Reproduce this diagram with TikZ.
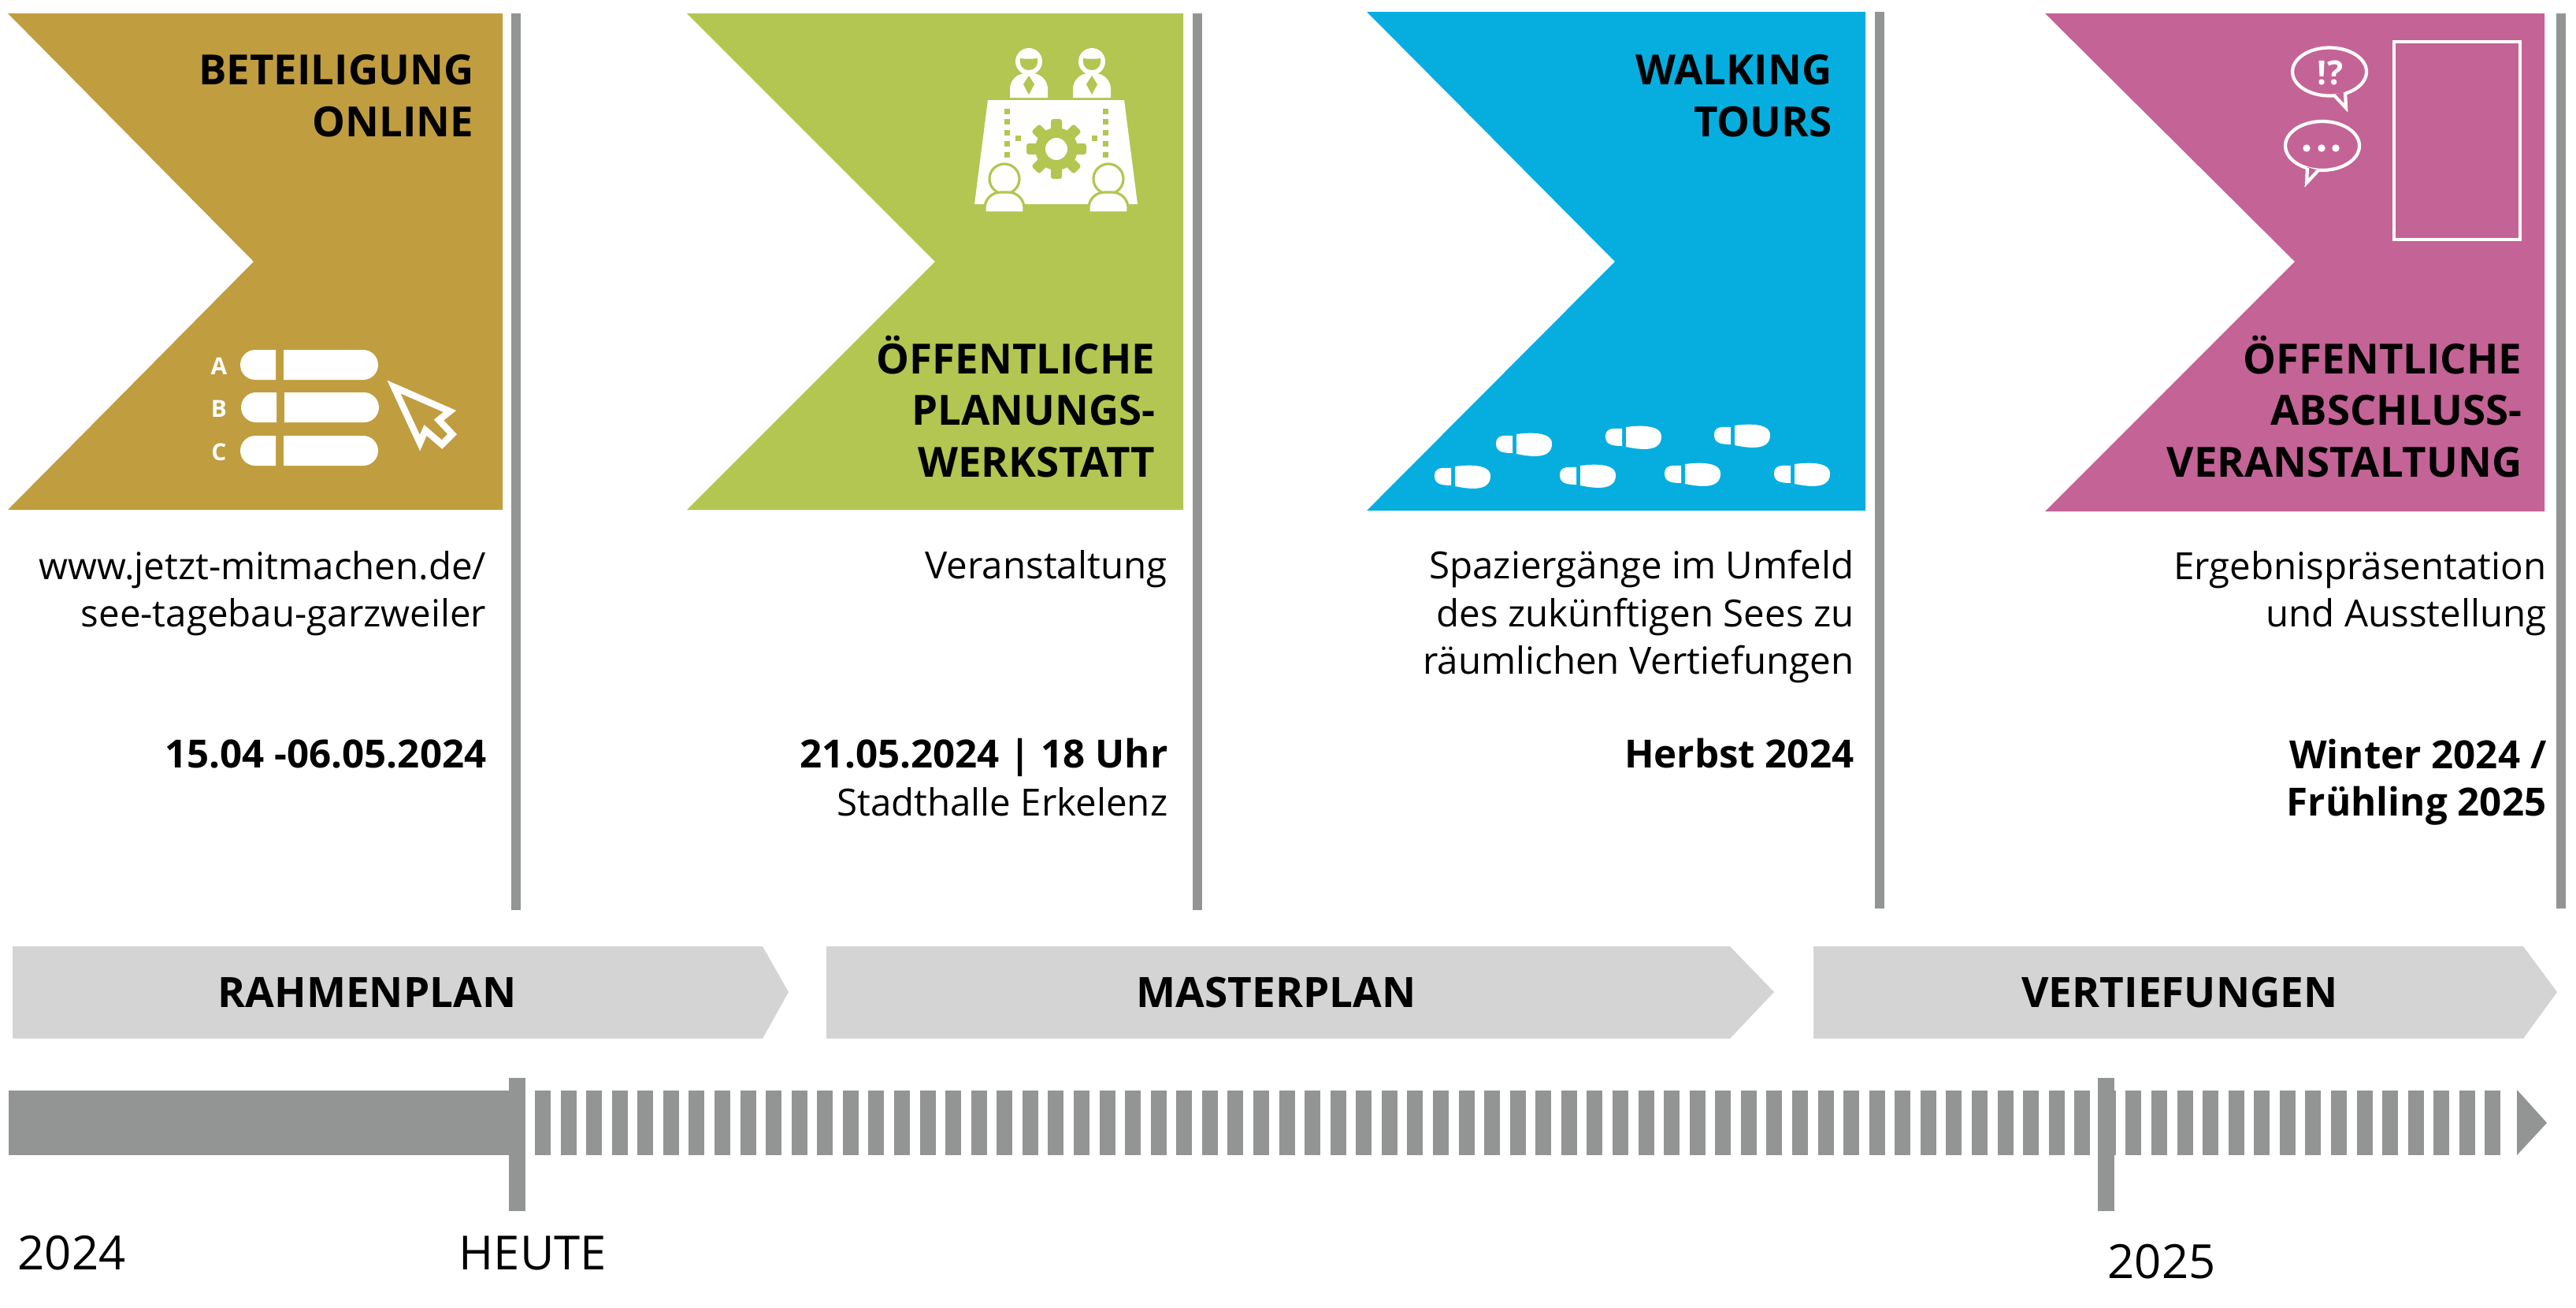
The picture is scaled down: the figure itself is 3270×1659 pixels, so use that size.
\documentclass[tikz,border=0pt]{standalone}
\usepackage{fontspec}
\setmainfont{Open Sans}

\definecolor{flaggold}{HTML}{C09D3F}
\definecolor{flaggreen}{HTML}{B2C651}
\definecolor{flagblue}{HTML}{06AEE0}
\definecolor{flagpink}{HTML}{C46396}
\definecolor{bargrey}{HTML}{939594}
\definecolor{phasegrey}{HTML}{D4D4D4}

\tikzset{
	flagtitle/.style={anchor=base east,align=right,inner sep=0pt,font=\fontsize{15}{18.5}\selectfont\bfseries},
	infotext/.style={anchor=base east,align=right,inner sep=0pt,font=\fontsize{13.5}{17.07}\selectfont},
	datetext/.style={anchor=base east,align=right,inner sep=0pt,font=\fontsize{14}{17.07}\selectfont\bfseries},
	phasetitle/.style={anchor=base,inner sep=0pt,font=\fontsize{15.1}{18}\selectfont\bfseries},
	yeartext/.style={anchor=base west,inner sep=0pt,font=\fontsize{17}{20}\selectfont},
	abctext/.style={anchor=base,inner sep=0pt,text=white,font=\fontsize{8.5}{10}\selectfont\bfseries},
	iconline/.style={draw=white,line width=1.2pt,miter limit=10},
}

\begin{document}
\begin{tikzpicture}[x=0.01cm,y=-0.01cm]		%1 unit = 1 pixel of the reference
	\useasboundingbox (0,0) rectangle (3270,1659);
	
	%flags and the grey posts beside them
	\foreach \fleft/\fnotch/\fright/\ftop/\fbot/\fcol/\pleft/\pbot in {
		10/322/638/17/647/flaggold/649/1155,
		872/1187/1502/17/647/flaggreen/1514/1155,
		1735/2050/2368/15/648/flagblue/2380/1153,
		2596/2913/3230/17/649/flagpink/3245/1153}{
		\fill[\fcol] (\fleft,\ftop) -- (\fright,\ftop) -- (\fright,\fbot) -- (\fleft,\fbot) -- (\fnotch,332) -- cycle;
		\fill[bargrey] (\pleft,\ftop) rectangle ++(12,\pbot-\ftop);
	}
	
	\node[flagtitle] (beteiligung) at (602,173) {BETEILIGUNG\\ONLINE};
	\node[flagtitle] (werkstatt) at (1467,605) {ÖFFENTLICHE\\PLANUNGS-\\WERKSTATT};
	\node[flagtitle] (walking) at (2326,173) {WALKING\\TOURS};
	\node[flagtitle] (abschluss) at (3202,605) {ÖFFENTLICHE\\ABSCHLUSS-\\VERANSTALTUNG};
	
	%texts below the flags
	\node[infotext] (onlineinfo) at (618,795) {www.jetzt-mitmachen.de/\\see-tagebau-garzweiler};
	\node[datetext] (onlinedate) at (618,974) {15.04 -06.05.2024};
	\node[infotext] (werkstattinfo) at (1482,734) {Veranstaltung};
	\node[datetext] (werkstattdate) at (1483,974) {21.05.2024 | 18 Uhr};
	\node[infotext] (werkstattort) at (1483,1035) {Stadthalle Erkelenz};
	\node[infotext] (walkinginfo) at (2354,855) {Spaziergänge im Umfeld\\des zukünftigen Sees zu\\räumlichen Vertiefungen};
	\node[datetext] (walkingdate) at (2354,974) {Herbst 2024};
	\node[infotext] (abschlussinfo) at (3233,795) {Ergebnispräsentation\\und Ausstellung};
	\node[datetext] (abschlussdate) at (3233,1035) {Winter 2024 /\\Frühling 2025};
	
	%icon: online form
	\foreach \rowy/\rowx/\rowl in {444/305/A,498/306/B,553/305/C}{
		\fill[white] (\rowx+45,\rowy) [rounded corners=0.19cm] -- (\rowx,\rowy) -- (\rowx,\rowy+38) [sharp corners] -- (\rowx+45,\rowy+38) -- cycle;
		\fill[white] (\rowx+55,\rowy) [rounded corners=0.19cm] -- (\rowx+175,\rowy) -- (\rowx+175,\rowy+38) [sharp corners] -- (\rowx+55,\rowy+38) -- cycle;
		\node[abctext] at (278,\rowy+31) {\rowl};
	}
	\draw[iconline,line width=2.4pt] (500,491) -- (571,522) -- (557,533) -- (574,551) -- (561,564) -- (540,546) -- (533,562) -- cycle;	%cursor
	
	%icon: round table, people and gear
	\fill[white] (1254,127) -- (1427,127) -- (1444,259) -- (1237,259) -- cycle;
	\foreach \px in {1306,1386}{
		\fill[white] (\px,78) circle[radius=17];
		\fill[flaggreen] (\px-11,74) .. controls (\px-4,75) and (\px+4,75) .. (\px+11,74) .. controls (\px+12,84) and (\px+7,89) .. (\px,89) .. controls (\px-7,89) and (\px-12,84) .. (\px-11,74) -- cycle;
		\fill[white] (\px-24,124) [rounded corners=0.2cm] -- (\px-24,93) -- (\px+24,93) [sharp corners] -- (\px+24,124) -- cycle;
		\fill[flaggreen] (\px,96) -- (\px+7,107) -- (\px,120) -- (\px-7,107) -- cycle;
	}
	\foreach \dy in {138,151,165,179,193}{
		\fill[flaggreen] (1275,\dy) rectangle ++(7,7);
		\fill[flaggreen] (1400,\dy) rectangle ++(7,7);
	}
	\fill[flaggreen] (1289,172) rectangle ++(7,7);
	\fill[flaggreen] (1386,172) rectangle ++(7,7);
	\fill[flaggreen] (1341,189) circle[radius=27];
	\foreach \ang in {0,45,...,315}{
		\fill[flaggreen,rounded corners=0.03cm,rotate around={\ang:(1341,189)}] (1334,151) rectangle (1348,170);
	}
	\fill[white] (1341,189) circle[radius=14];
	\foreach \px in {1275,1407}{
		\filldraw[fill=white,draw=flaggreen,line width=0.9pt] (\px,227) circle[radius=19];
		\filldraw[fill=white,draw=flaggreen,line width=0.9pt] (\px-25,270) [rounded corners=0.2cm] -- (\px-25,244) -- (\px+25,244) [sharp corners] -- (\px+25,270) -- cycle;
	}
	
	%icon: footprints
	\foreach \sx/\sy in {1821/590,1980/589,2113/587,2252/587,1899/549,2038/540,2176/538}{
		\begin{scope}[shift={(\sx,\sy)}]
		\fill[white] (21,4) .. controls (8,3) and (0,4) .. (0,14) .. controls (0,24) and (8,26) .. (21,26) -- cycle;
		\fill[white] (26,2) .. controls (40,0) and (71,-2) .. (71,14) .. controls (71,34) and (45,31) .. (26,27) -- cycle;
		\end{scope}
	}
	
	%icon: speech bubbles and poster
	\draw[iconline] (3039,53) rectangle (3199,304);
	\draw[iconline] (2957,91) ellipse[x radius=47,y radius=30.5];
	\fill[flagpink] (2963,120) -- (2978,137) -- (2977,116) -- cycle;
	\draw[iconline] (2963,121) -- (2978,137) -- (2977,117);
	\node[anchor=base,inner sep=0pt,text=white,font=\fontsize{12}{14}\selectfont\bfseries] (exclaim) at (2958,107) {!?};
	\draw[iconline] (2948,185) ellipse[x radius=47,y radius=31];
	\fill[flagpink] (2929,212) -- (2928,232) -- (2942,216) -- cycle;
	\draw[iconline] (2929,213) -- (2928,232) -- (2942,217);
	\foreach \bx in {2928,2947,2965}{
		\fill[white] (\bx,188) circle[radius=4.7];
	}
	
	%phases
	\foreach \cleft/\cbody/\ctip in {16/968/1001,1049/2196/2252,2302/3203/3246}{
		\fill[phasegrey] (\cleft,1201) -- (\cbody,1201) -- (\ctip,1259) -- (\cbody,1318) -- (\cleft,1318) -- cycle;
	}
	\node[phasetitle] (rahmen) at (466,1278) {RAHMENPLAN};
	\node[phasetitle] (master) at (1620,1278) {MASTERPLAN};
	\node[phasetitle] (vertiefung) at (2767,1278) {VERTIEFUNGEN};
	
	%time bar
	\fill[bargrey] (11,1384) rectangle (646,1466);
	\foreach \n in {0,...,76}{
		\fill[bargrey] ({679+32.57*\n},1384) rectangle ++(20,82);
	}
	\fill[bargrey] (646,1368) rectangle (667,1537);
	\fill[bargrey] (2663,1368) rectangle (2684,1537);
	\fill[bargrey] (3195,1383) -- (3233,1425) -- (3195,1466) -- cycle;
	
	\node[yeartext] (jahrstart) at (22,1611) {2024};
	\node[yeartext] (heute) at (582,1611) {HEUTE};
	\node[yeartext] (jahrende) at (2675,1622) {2025};
\end{tikzpicture}
\end{document}
